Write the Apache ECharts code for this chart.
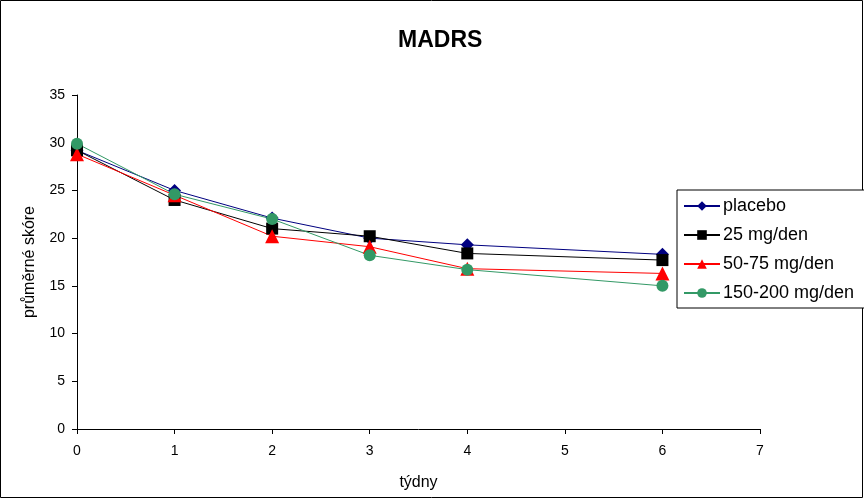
<!DOCTYPE html>
<html>
<head>
<meta charset="utf-8">
<script src="https://cdn.jsdelivr.net/npm/echarts@6/dist/echarts.min.js"></script>
<style>
  html, body { margin: 0; padding: 0; background: #fff; }
  #chart { width: 864px; height: 499px; }
</style>
</head>
<body>
<div id="chart"></div>
<script>
// Weeks of treatment and mean MADRS scores per dose group
const weeks = [0, 1, 2, 3, 4, 6];
const placebo = [29.2, 25.0, 22.1, 20.0, 19.3, 18.3];
const mg25 = [29.2, 24.0, 21.0, 20.2, 18.4, 17.7];
const mg50_75 = [28.8, 24.5, 20.2, 19.1, 16.8, 16.3];
const mg150_200 = [29.9, 24.6, 22.0, 18.2, 16.7, 15.0];
const seriesNames = ['placebo', '25 mg/den', '50-75 mg/den', '150-200 mg/den'];

const pairs = vals => weeks.map((w, i) => [w, vals[i]]);
const font = 'Arial, "Liberation Sans", sans-serif';

function line(name, vals, color, symbol, size) {
  return {
    name: name,
    type: 'line',
    data: pairs(vals),
    symbol: symbol,
    symbolSize: size,
    lineStyle: { color: color, width: 1 },
    itemStyle: { color: color },
    emphasis: { disabled: true },
    animation: false
  };
}

const chart = echarts.init(document.getElementById('chart'));
chart.setOption({
  backgroundColor: '#fff',
  title: {
    text: 'MADRS',
    left: 393,
    top: 24,
    textStyle: { fontFamily: font, fontSize: 23, fontWeight: 'bold', color: '#000' }
  },
  graphic: [{
    type: 'rect',
    shape: { x: 0.5, y: 0.5, width: 862, height: 497 },
    style: { fill: 'none', stroke: '#000', lineWidth: 1 },
    silent: true
  }],
  legend: {
    data: seriesNames,
    orient: 'vertical',
    left: 677,
    top: 190,
    padding: [7, 16, 6, 6],
    itemGap: 11,
    itemWidth: 36,
    itemHeight: 12,
    borderColor: '#000',
    borderWidth: 1,
    backgroundColor: '#fff',
    textStyle: { fontFamily: font, fontSize: 18, color: '#000', padding: [0, 0, 0, -2] },
    selectedMode: false
  },
  grid: { left: 77, right: 104, top: 95, bottom: 70 },
  xAxis: {
    type: 'value',
    min: 0,
    max: 7,
    interval: 1,
    name: 'týdny',
    nameLocation: 'middle',
    nameGap: 46,
    nameTextStyle: { fontFamily: font, fontSize: 16, color: '#000' },
    axisLine: { lineStyle: { color: '#000', width: 1 } },
    axisTick: { lineStyle: { color: '#000' }, length: 5 },
    axisLabel: { fontFamily: font, fontSize: 14, color: '#000', margin: 15 },
    splitLine: { show: false }
  },
  yAxis: {
    type: 'value',
    min: 0,
    max: 35,
    interval: 5,
    name: 'průměrné skóre',
    nameLocation: 'middle',
    nameGap: 39,
    nameTextStyle: { fontFamily: font, fontSize: 16, color: '#000' },
    axisLine: { show: true, lineStyle: { color: '#000', width: 1 } },
    axisTick: { show: true, lineStyle: { color: '#000' }, length: 5 },
    axisLabel: { fontFamily: font, fontSize: 14, color: '#000', margin: 12 },
    splitLine: { show: false }
  },
  series: [
    line(seriesNames[0], placebo, '#000080', 'diamond', 13),
    line(seriesNames[1], mg25, '#000000', 'rect', 12),
    line(seriesNames[2], mg50_75, '#ff0000', 'triangle', 14),
    line(seriesNames[3], mg150_200, '#339966', 'circle', 12)
  ]
});
</script>
</body>
</html>
